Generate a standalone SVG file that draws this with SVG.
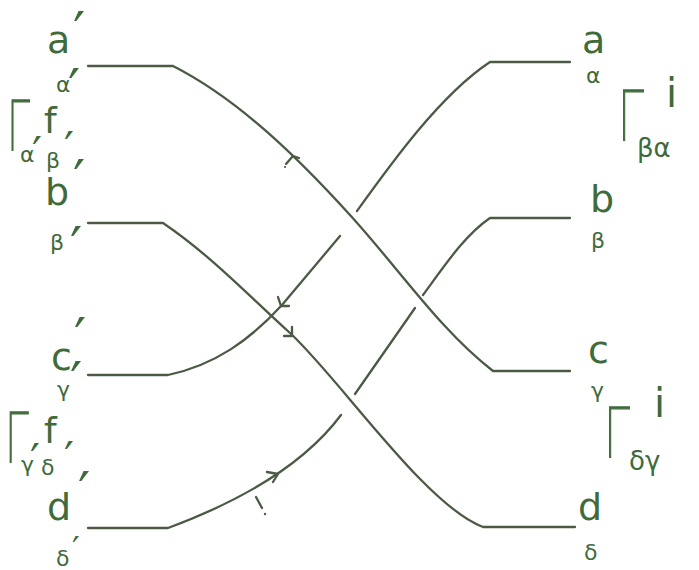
<svg xmlns="http://www.w3.org/2000/svg" width="699" height="570" viewBox="0 0 699 570">
<style>
.s{fill:none;stroke:#4b5a44;stroke-width:2.3;stroke-linecap:round;stroke-linejoin:round}
.t{font-family:"DejaVu Sans",sans-serif;fill:#3f6a3a}
.L{font-size:38px}
.g{font-size:22px}
.p{font-size:54px}
.q{font-size:44px}
.f{font-size:36px}
.G{font-family:Roboto,"DejaVu Sans",sans-serif;font-weight:100;font-size:70px;fill:#3f6a3a;stroke:#3f6a3a;stroke-width:1.4}
</style>
<rect width="699" height="570" fill="#ffffff"/>
<g id="connectors">
<path class="s" d="M88,66 H173 C240,100 300,160 350,215 C400,270 440,330 493,371 H570"/>
<path class="s" d="M88,223 H163 C210,255 245,292 290,333 C340,379 425,505 483,527 H575"/>
<path class="s" d="M88,375 H168 C215,365 250,340 282,305 L340,236"/>
<path class="s" d="M357,211 C390,165 440,95 490,62 H570"/>
<path class="s" d="M88,528 H168 C230,505 300,470 341,415"/>
<path class="s" d="M355,394 L415,308"/>
<path class="s" d="M423,295 C445,265 465,235 490,218 H570"/>
<path class="s" d="M286,164 L293,156 L299,158"/>
<path class="s" d="M278,297 L281,306 L289,306"/>
<path class="s" d="M292,327 L292,336 L284,336"/>
<path class="s" d="M267,472 L278,474 L273,482"/>
<path class="s" d="M256,497 L262,508" stroke-width="1.6"/>
<circle cx="265" cy="514" r="1.2" fill="#4b5a44"/>
<circle cx="285" cy="167" r="1.1" fill="#4b5a44"/>
</g>
<g id="node-a-prime">
<text class="t L" x="47" y="53">a</text>
<text class="t p" x="73" y="50">′</text>
<text class="t g" x="56" y="92">α</text>
<text class="t p" x="68" y="107">′</text>
</g>
<g id="node-b-prime">
<text class="t L" x="45" y="205">b</text>
<text class="t p" x="73" y="198">′</text>
<text class="t g" x="50" y="250">β</text>
<text class="t p" x="70" y="265">′</text>
</g>
<g id="node-c-prime">
<text class="t L" x="51" y="370">c</text>
<text class="t p" x="74" y="356">′</text>
<text class="t g" x="57" y="397">γ</text>
<text class="t p" x="70" y="400">′</text>
</g>
<g id="node-d-prime">
<text class="t L" x="47" y="520">d</text>
<text class="t p" x="78" y="510">′</text>
<text class="t g" x="56" y="566">δ</text>
<text class="t" style="font-size:34px" x="72" y="561">′</text>
</g>
<g id="gamma-f-top">
<text class="G" transform="translate(8,150) scale(0.6,1)">Γ</text>
<text class="t f" x="44" y="133">f</text>
<text class="t g" x="20" y="162">α</text>
<text class="t q" x="32" y="169">′</text>
<text class="t g" x="46" y="168">β</text>
<text class="t q" x="64" y="164">′</text>
</g>
<g id="gamma-f-bottom">
<text class="G" transform="translate(6,462) scale(0.62,1)">Γ</text>
<text class="t f" x="44" y="443">f</text>
<text class="t g" x="21" y="472">γ</text>
<text class="t q" x="30" y="476">′</text>
<text class="t g" x="41" y="475">δ</text>
<text class="t q" x="64" y="474">′</text>
</g>
<g id="node-a">
<text class="t L" x="582" y="53">a</text>
<text class="t g" x="586" y="83">α</text>
</g>
<g id="node-b">
<text class="t L" x="590" y="212">b</text>
<text class="t g" x="591" y="248">β</text>
</g>
<g id="node-c">
<text class="t L" x="588" y="363">c</text>
<text class="t g" x="591" y="398">γ</text>
</g>
<g id="node-d">
<text class="t L" x="578" y="520">d</text>
<text class="t g" x="584" y="560">δ</text>
</g>
<g id="gamma-i-top">
<text class="G" transform="translate(619,140) scale(0.68,1)">Γ</text>
<text class="t" style="font-size:40px" x="666" y="107">i</text>
<text class="t" style="font-size:26px" x="637" y="157">βα</text>
</g>
<g id="gamma-i-bottom">
<text class="G" transform="translate(605,457) scale(0.68,1)">Γ</text>
<text class="t" style="font-size:40px" x="654" y="417">i</text>
<text class="t" style="font-size:26px" x="629" y="470">δγ</text>
</g>
</svg>
